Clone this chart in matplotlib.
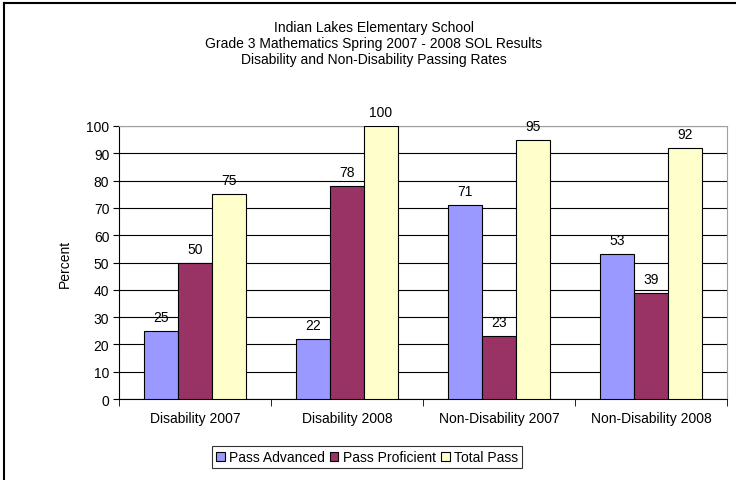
import numpy as np
import matplotlib
matplotlib.use("Agg")
import matplotlib.pyplot as plt
from matplotlib.lines import Line2D

plt.rcParams['font.family'] = ['Liberation Sans', 'DejaVu Sans']

# ---------------------------------------------------------------------------
# Dati
# ---------------------------------------------------------------------------
categories = ["Disability 2007", "Disability 2008", "Non-Disability 2007", "Non-Disability 2008"]
pass_advanced = [25, 22, 71, 53]
pass_proficient = [50, 78, 23, 39]
total_pass = [75, 100, 95, 92]
series_names = ["Pass Advanced", "Pass Proficient", "Total Pass"]
colors = ["#9999FF", "#993366", "#FFFFCC"]
title_lines = ["Indian Lakes Elementary School",
               "Grade 3 Mathematics Spring 2007 - 2008 SOL Results",
               "Disability and Non-Disability Passing Rates"]

fs = 10

fig = plt.figure(figsize=(7.36, 4.81), dpi=100)
ax = fig.add_axes([119 / 736, 1 - 400 / 481, (727 - 119) / 736, (400 - 127) / 481])

x = np.arange(len(categories))
w = 0.223
series = [pass_advanced, pass_proficient, total_pass]
for i, (vals, name, col) in enumerate(zip(series, series_names, colors)):
    pos = x + (i - 1) * w
    ax.bar(pos, vals, width=w, color=col, edgecolor="black", linewidth=0.8,
           label=name, zorder=3)
    for p, v in zip(pos, vals):
        ax.text(p, v + 2.5, str(v), ha="center", va="bottom", fontsize=fs, zorder=4)

ax.set_xlim(-0.5, len(categories) - 0.5)
ax.set_ylim(0, 100)
ax.set_yticks(range(0, 101, 10))
ax.yaxis.grid(True, color="black", linewidth=0.8, zorder=0)
ax.set_xticks(x)
ax.set_xticklabels(categories, fontsize=fs)
ax.set_xticks(np.arange(-0.5, len(categories)), minor=True)
ax.tick_params(axis="x", which="major", length=0, pad=9)
ax.tick_params(axis="x", which="minor", length=5, direction="out", color="black")
ax.tick_params(axis="y", length=4, direction="out", labelsize=fs, pad=3)
ax.set_ylabel("Percent", fontsize=fs, labelpad=10)

for s in ["top", "right"]:
    ax.spines[s].set_color("#A0A0A0")
    ax.spines[s].set_linewidth(0.8)
for s in ["left", "bottom"]:
    ax.spines[s].set_color("black")
    ax.spines[s].set_linewidth(0.8)

for k, line in enumerate(title_lines):
    fig.text(374 / 736, 1 - (28 + 16 * k) / 481, line, ha="center", va="center", fontsize=fs)

leg = fig.legend(loc="center", bbox_to_anchor=(367 / 736, 1 - 458 / 481), ncol=3,
                 fontsize=fs, frameon=True, fancybox=False, edgecolor="black",
                 handlelength=0.6, handleheight=0.6, handletextpad=0.3,
                 columnspacing=0.4, borderpad=0.3, borderaxespad=0)
leg.get_frame().set_linewidth(0.8)

# cornice esterna
fig.add_artist(Line2D([4 / 736, 1], [1 - 4 / 481, 1 - 4 / 481], color="black", linewidth=1.5))
fig.add_artist(Line2D([4 / 736, 4 / 736], [0, 1 - 4 / 481], color="black", linewidth=1.5))

fig.savefig("out.png", dpi=100)
